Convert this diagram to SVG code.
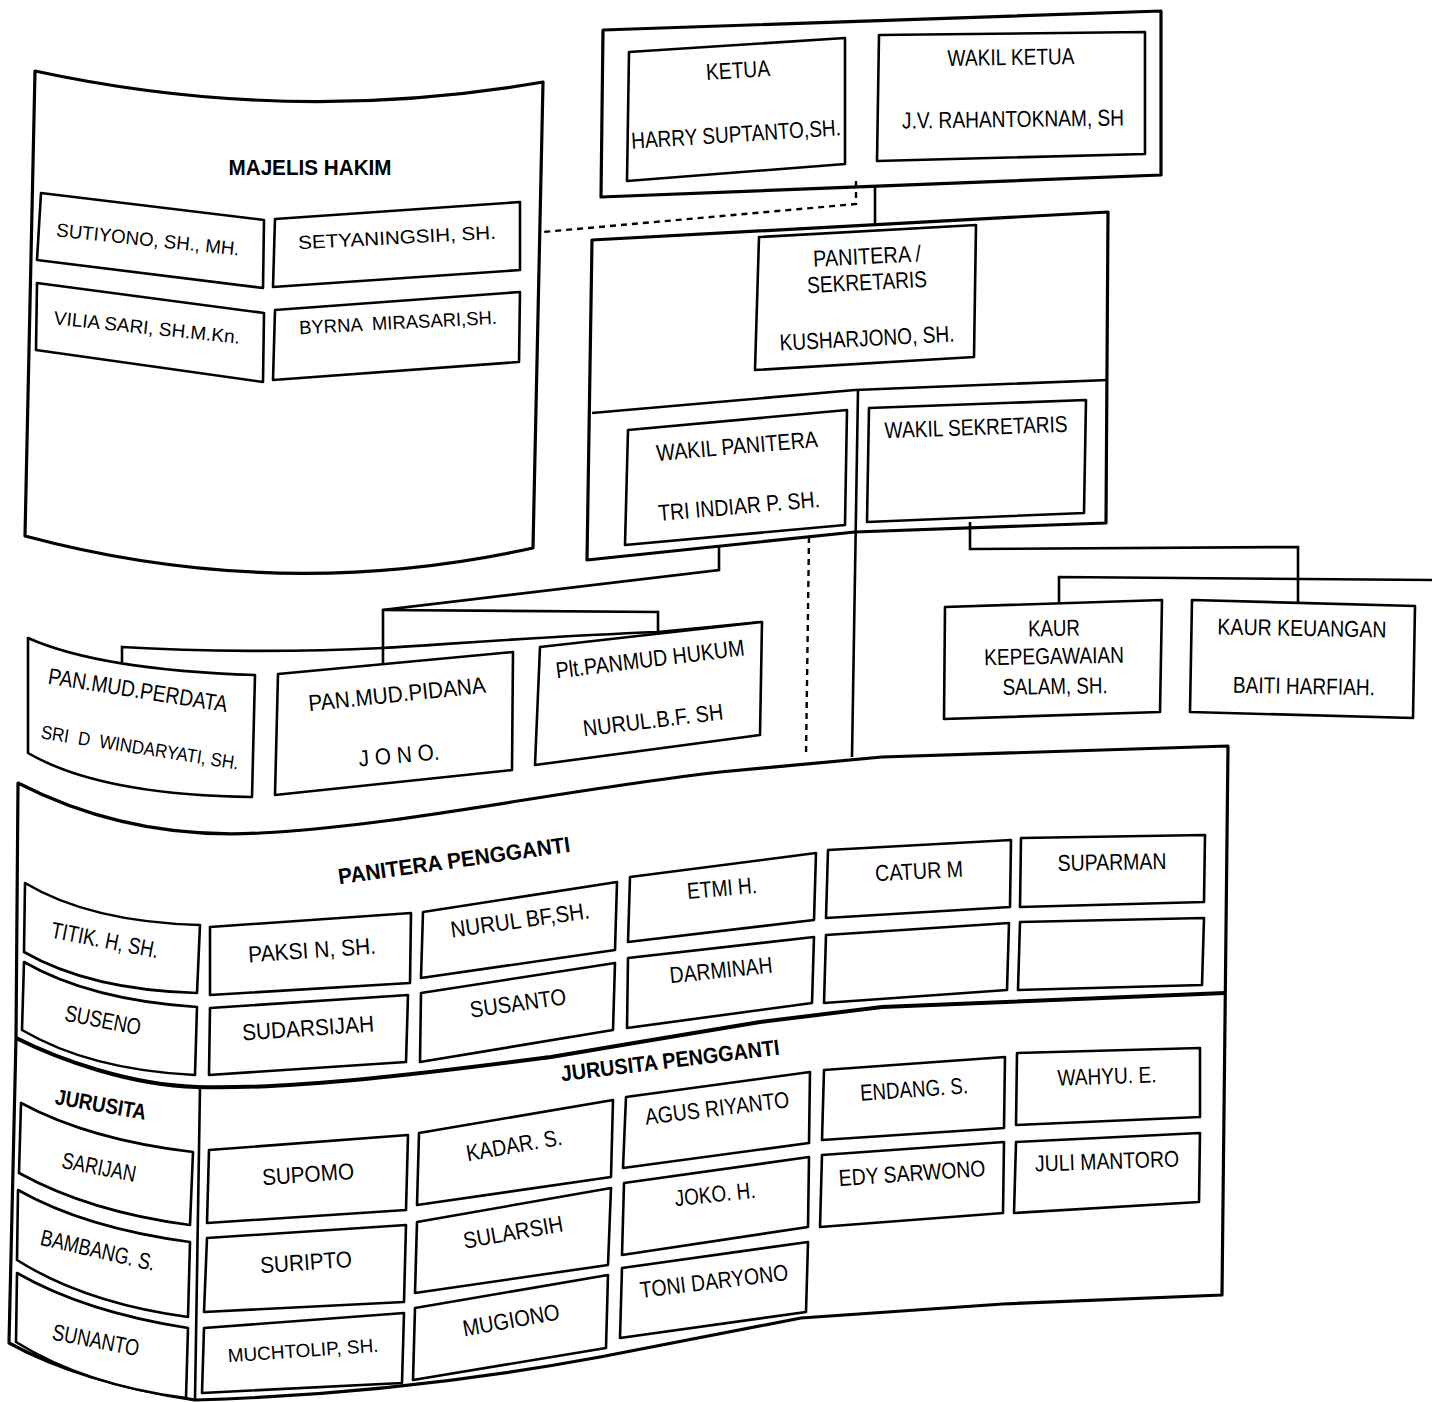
<svg xmlns="http://www.w3.org/2000/svg" width="1432" height="1402" viewBox="0 0 1432 1402">
<style>
.bg{fill:#fff}
.box{fill:#fff;stroke:#000;stroke-width:2.6;stroke-linejoin:round}
.outer{fill:#fff;stroke:#000;stroke-width:3.2;stroke-linejoin:round}
.line{fill:none;stroke:#000;stroke-width:2.6}
.thick{fill:none;stroke:#000;stroke-width:4}
.dash{fill:none;stroke:#000;stroke-width:2.4;stroke-dasharray:6 5}
text{font-family:"Liberation Sans",Arial,sans-serif;font-size:23px;text-anchor:middle;fill:#000}
.b{font-weight:bold;font-size:22px}
.s{font-size:19px}
</style>
<rect class="bg" x="0" y="0" width="1432" height="1402"/>

<!-- group outlines -->
<g id="group-pimpinan"><path class="outer" d="M603,30 L1161,11 L1161,175 L601,197 Z"/></g>
<g id="group-majelis-hakim">
<path class="outer" d="M35,71 Q289,126 543,82 L533,548 Q279,604 25,536 Z"/>
<text class="b" x="310" y="175" textLength="163" lengthAdjust="spacingAndGlyphs">MAJELIS HAKIM</text>
</g>
<g id="group-panitera">
<path class="outer" d="M592,240 L1108,212 L1106,523 L855,532 L587,560 Z"/>
<path class="line" d="M592,413 L855,390 L1108,380"/>
</g>
<g id="group-pengganti">
<path class="outer" d="M18,783 C90,820 170,838 260,833 C400,826 560,790 720,772 L882,757 L1228,746 L1222,1295 L1003,1304 L801,1318 L600,1357 Q400,1394 195,1400 Q80,1382 9,1343 L16,1038 Z"/>
<path class="thick" d="M16,1038 C60,1060 130,1085 197,1087 C300,1090 450,1070 551,1057 L640,1042 L760,1022 L882,1007 L1225,993"/>
<path class="line" d="M200,1087 L195,1400"/>
<text class="b" x="454" y="868" transform="rotate(-8 454 860)" textLength="234" lengthAdjust="spacingAndGlyphs">PANITERA PENGGANTI</text>
<text class="b" x="670" y="1068" transform="rotate(-7 670 1060)" textLength="220" lengthAdjust="spacingAndGlyphs">JURUSITA PENGGANTI</text>
<text class="b" x="101" y="1112" transform="rotate(10 101 1104)" textLength="92" lengthAdjust="spacingAndGlyphs">JURUSITA</text>
</g>

<!-- connectors -->
<g id="connectors">
<path class="dash" d="M856,181 L856,204 L543,232"/>
<path class="line" d="M875,187 L875,225"/>
<path class="line" d="M858,390 L852,757"/>
<path class="dash" d="M809,537 L806,757"/>
<path class="line" d="M719,545 L719,570 L383,610 L383,665"/>
<path class="line" d="M383,610 L658,612 L658,632"/>
<path class="line" d="M122,662 L122,647 C200,652 300,652 383,648 C450,644 550,636 658,632 L761,622"/>
<path class="line" d="M970,522 L970,549 L1298,547 L1298,602"/>
<path class="line" d="M1059,603 L1059,577 L1432,580"/>
</g>

<!-- top -->
<g id="node-ketua">
<path class="box" d="M629,52 L845,38 L845,164 L627,181 Z"/>
<text x="738" y="78" transform="rotate(-3.7 738 70)" textLength="64" lengthAdjust="spacingAndGlyphs">KETUA</text>
<text x="736" y="142" transform="rotate(-3.7 736 134)" textLength="210" lengthAdjust="spacingAndGlyphs">HARRY SUPTANTO,SH.</text>
</g>
<g id="node-wakil-ketua">
<path class="box" d="M879,35 L1145,32 L1145,154 L877,161 Z"/>
<text x="1011" y="65" transform="rotate(-0.8 1011 57)" textLength="127" lengthAdjust="spacingAndGlyphs">WAKIL KETUA</text>
<text x="1013" y="127" transform="rotate(-0.8 1013 119)" textLength="222" lengthAdjust="spacingAndGlyphs">J.V. RAHANTOKNAM, SH</text>
</g>

<!-- majelis hakim -->
<g id="node-sutiyono">
<path class="box" d="M41,193 L264,220 L263,288 L37,260 Z"/>
<text class="s" x="148" y="246" transform="rotate(6 148 239)" textLength="184" lengthAdjust="spacingAndGlyphs">SUTIYONO, SH., MH.</text>
</g>
<g id="node-setyaningsih">
<path class="box" d="M275,219 L520,202 L520,270 L273,287 Z"/>
<text class="s" x="397" y="244" transform="rotate(-3 397 237)" textLength="198" lengthAdjust="spacingAndGlyphs">SETYANINGSIH, SH.</text>
</g>
<g id="node-vilia">
<path class="box" d="M37,283 L264,313 L263,382 L36,350 Z"/>
<text class="s" x="147" y="334" transform="rotate(6 147 327)" textLength="187" lengthAdjust="spacingAndGlyphs">VILIA SARI, SH.M.Kn.</text>
</g>
<g id="node-byrna">
<path class="box" d="M275,310 L520,292 L519,362 L273,380 Z"/>
<text class="s" x="398" y="329" transform="rotate(-3 398 322)" textLength="198" lengthAdjust="spacingAndGlyphs" style="white-space:pre">BYRNA  MIRASARI,SH.</text>
</g>

<!-- panitera -->
<g id="node-panitera">
<path class="box" d="M759,237 L976,225 L974,357 L755,370 Z"/>
<text x="867" y="264" transform="rotate(-3 867 256)" textLength="108" lengthAdjust="spacingAndGlyphs">PANITERA /</text>
<text x="867" y="290" transform="rotate(-3 867 282)" textLength="120" lengthAdjust="spacingAndGlyphs">SEKRETARIS</text>
<text x="867" y="346" transform="rotate(-3 867 338)" textLength="175" lengthAdjust="spacingAndGlyphs">KUSHARJONO, SH.</text>
</g>
<g id="node-wakil-panitera">
<path class="box" d="M628,430 L847,410 L845,525 L625,545 Z"/>
<text x="737" y="454" transform="rotate(-5 737 446)" textLength="162" lengthAdjust="spacingAndGlyphs">WAKIL PANITERA</text>
<text x="739" y="514" transform="rotate(-5 739 506)" textLength="162" lengthAdjust="spacingAndGlyphs">TRI INDIAR P. SH.</text>
</g>
<g id="node-wakil-sekretaris">
<path class="box" d="M869,408 L1086,400 L1084,513 L867,522 Z"/>
<text x="976" y="435" transform="rotate(-2 976 427)" textLength="183" lengthAdjust="spacingAndGlyphs">WAKIL SEKRETARIS</text>
</g>

<!-- kaur -->
<g id="node-kaur-kepegawaian">
<path class="box" d="M945,607 L1162,600 L1160,712 L944,719 Z"/>
<text x="1054" y="636" transform="rotate(-1 1054 628)" textLength="52" lengthAdjust="spacingAndGlyphs">KAUR</text>
<text x="1054" y="664" transform="rotate(-1 1054 656)" textLength="140" lengthAdjust="spacingAndGlyphs">KEPEGAWAIAN</text>
<text x="1055" y="694" transform="rotate(-1 1055 686)" textLength="105" lengthAdjust="spacingAndGlyphs">SALAM, SH.</text>
</g>
<g id="node-kaur-keuangan">
<path class="box" d="M1192,600 L1415,606 L1413,718 L1190,712 Z"/>
<text x="1302" y="636" transform="rotate(1 1302 628)" textLength="169" lengthAdjust="spacingAndGlyphs">KAUR KEUANGAN</text>
<text x="1304" y="694" transform="rotate(1 1304 686)" textLength="142" lengthAdjust="spacingAndGlyphs">BAITI HARFIAH.</text>
</g>

<!-- panmud -->
<g id="node-perdata">
<path class="box" d="M28,638 Q100,670 255,675 L252,797 Q100,795 28,753 Z"/>
<text x="138" y="698" transform="rotate(9 138 690)" textLength="181" lengthAdjust="spacingAndGlyphs">PAN.MUD.PERDATA</text>
<text class="s" x="140" y="754" transform="rotate(9 140 747)" textLength="200" lengthAdjust="spacingAndGlyphs" style="white-space:pre">SRI  D  WINDARYATI, SH.</text>
</g>
<g id="node-pidana">
<path class="box" d="M278,674 L513,652 L512,770 L275,795 Z"/>
<text x="397" y="702" transform="rotate(-6 397 694)" textLength="178" lengthAdjust="spacingAndGlyphs">PAN.MUD.PIDANA</text>
<text x="399" y="763" transform="rotate(-5 399 755)" textLength="81" lengthAdjust="spacingAndGlyphs">J O N O.</text>
</g>
<g id="node-hukum">
<path class="box" d="M540,647 L762,622 L760,735 L535,765 Z"/>
<text x="650" y="667" transform="rotate(-7 650 659)" textLength="190" lengthAdjust="spacingAndGlyphs">Plt.PANMUD HUKUM</text>
<text x="653" y="728" transform="rotate(-7 653 720)" textLength="141" lengthAdjust="spacingAndGlyphs">NURUL.B.F. SH</text>
</g>

<!-- panitera pengganti -->
<g id="node-titik">
<path class="box" d="M25,883 Q90,922 200,925 L197,993 Q90,990 24,952 Z"/>
<text x="105" y="948" transform="rotate(11 105 940)" textLength="109" lengthAdjust="spacingAndGlyphs">TITIK. H, SH.</text>
</g>
<g id="node-paksi">
<path class="box" d="M210,927 L411,913 L410,983 L210,995 Z"/>
<text x="312" y="958" transform="rotate(-4 312 950)" textLength="128" lengthAdjust="spacingAndGlyphs">PAKSI N, SH.</text>
</g>
<g id="node-nurul-bf">
<path class="box" d="M423,912 L617,882 L615,950 L421,978 Z"/>
<text x="520" y="928" transform="rotate(-8 520 920)" textLength="140" lengthAdjust="spacingAndGlyphs">NURUL BF,SH.</text>
</g>
<g id="node-etmi">
<path class="box" d="M630,877 L816,853 L814,920 L628,942 Z"/>
<text x="722" y="896" transform="rotate(-5 722 888)" textLength="70" lengthAdjust="spacingAndGlyphs">ETMI H.</text>
</g>
<g id="node-catur">
<path class="box" d="M828,850 L1011,840 L1010,907 L826,918 Z"/>
<text x="919" y="879" transform="rotate(-3 919 871)" textLength="88" lengthAdjust="spacingAndGlyphs">CATUR M</text>
</g>
<g id="node-suparman">
<path class="box" d="M1021,838 L1205,835 L1204,902 L1020,907 Z"/>
<text x="1112" y="870" transform="rotate(-1 1112 862)" textLength="109" lengthAdjust="spacingAndGlyphs">SUPARMAN</text>
</g>
<g id="node-suseno">
<path class="box" d="M24,962 Q90,1000 197,1007 L195,1075 Q90,1070 22,1030 Z"/>
<text x="103" y="1028" transform="rotate(11 103 1020)" textLength="77" lengthAdjust="spacingAndGlyphs">SUSENO</text>
</g>
<g id="node-sudarsijah">
<path class="box" d="M210,1008 L408,995 L406,1062 L209,1075 Z"/>
<text x="308" y="1036" transform="rotate(-4 308 1028)" textLength="132" lengthAdjust="spacingAndGlyphs">SUDARSIJAH</text>
</g>
<g id="node-susanto">
<path class="box" d="M421,993 L615,963 L613,1030 L420,1062 Z"/>
<text x="518" y="1011" transform="rotate(-8 518 1003)" textLength="97" lengthAdjust="spacingAndGlyphs">SUSANTO</text>
</g>
<g id="node-darminah">
<path class="box" d="M628,958 L814,937 L812,1003 L627,1028 Z"/>
<text x="721" y="978" transform="rotate(-6 721 970)" textLength="103" lengthAdjust="spacingAndGlyphs">DARMINAH</text>
</g>
<g id="node-empty-1"><path class="box" d="M826,935 L1009,923 L1007,990 L824,1003 Z"/></g>
<g id="node-empty-2"><path class="box" d="M1020,922 L1204,918 L1202,985 L1018,990 Z"/></g>

<!-- jurusita -->
<g id="node-sarijan">
<path class="box" d="M21,1103 Q90,1140 193,1152 L190,1225 Q90,1212 19,1173 Z"/>
<text x="99" y="1175" transform="rotate(11 99 1167)" textLength="75" lengthAdjust="spacingAndGlyphs">SARIJAN</text>
</g>
<g id="node-bambang">
<path class="box" d="M18,1190 Q85,1228 190,1242 L188,1317 Q85,1303 17,1260 Z"/>
<text x="98" y="1258" transform="rotate(13 98 1250)" textLength="117" lengthAdjust="spacingAndGlyphs">BAMBANG. S.</text>
</g>
<g id="node-sunanto">
<path class="box" d="M17,1273 Q85,1312 188,1328 L186,1398 Q85,1385 16,1342 Z"/>
<text x="96" y="1348" transform="rotate(11 96 1340)" textLength="88" lengthAdjust="spacingAndGlyphs">SUNANTO</text>
</g>

<!-- jurusita pengganti -->
<g id="node-supomo">
<path class="box" d="M209,1150 L408,1135 L406,1210 L207,1223 Z"/>
<text x="308" y="1182" transform="rotate(-4 308 1174)" textLength="92" lengthAdjust="spacingAndGlyphs">SUPOMO</text>
</g>
<g id="node-suripto">
<path class="box" d="M207,1238 L406,1225 L404,1302 L204,1312 Z"/>
<text x="306" y="1270" transform="rotate(-4 306 1262)" textLength="92" lengthAdjust="spacingAndGlyphs">SURIPTO</text>
</g>
<g id="node-muchtolip">
<path class="box" d="M204,1328 L404,1313 L402,1383 L202,1393 Z"/>
<text class="s" x="303" y="1357" transform="rotate(-4 303 1350)" textLength="151" lengthAdjust="spacingAndGlyphs">MUCHTOLIP, SH.</text>
</g>
<g id="node-kadar">
<path class="box" d="M419,1133 L613,1100 L611,1177 L417,1205 Z"/>
<text x="514" y="1153" transform="rotate(-10 514 1145)" textLength="97" lengthAdjust="spacingAndGlyphs">KADAR. S.</text>
</g>
<g id="node-sularsih">
<path class="box" d="M417,1222 L611,1188 L608,1265 L415,1293 Z"/>
<text x="513" y="1240" transform="rotate(-10 513 1232)" textLength="101" lengthAdjust="spacingAndGlyphs">SULARSIH</text>
</g>
<g id="node-mugiono">
<path class="box" d="M415,1308 L608,1275 L606,1348 L413,1380 Z"/>
<text x="511" y="1328" transform="rotate(-10 511 1320)" textLength="98" lengthAdjust="spacingAndGlyphs">MUGIONO</text>
</g>
<g id="node-agus">
<path class="box" d="M626,1097 L810,1072 L809,1143 L623,1168 Z"/>
<text x="717" y="1116" transform="rotate(-7 717 1108)" textLength="145" lengthAdjust="spacingAndGlyphs">AGUS RIYANTO</text>
</g>
<g id="node-joko">
<path class="box" d="M624,1183 L809,1157 L808,1227 L622,1255 Z"/>
<text x="715" y="1202" transform="rotate(-6 715 1194)" textLength="81" lengthAdjust="spacingAndGlyphs">JOKO. H.</text>
</g>
<g id="node-toni">
<path class="box" d="M622,1268 L808,1242 L806,1312 L620,1338 Z"/>
<text x="714" y="1289" transform="rotate(-7 714 1281)" textLength="149" lengthAdjust="spacingAndGlyphs">TONI DARYONO</text>
</g>
<g id="node-endang">
<path class="box" d="M824,1070 L1005,1057 L1004,1128 L822,1140 Z"/>
<text x="914" y="1097" transform="rotate(-4 914 1089)" textLength="108" lengthAdjust="spacingAndGlyphs">ENDANG. S.</text>
</g>
<g id="node-edy">
<path class="box" d="M822,1155 L1004,1142 L1003,1213 L820,1227 Z"/>
<text x="912" y="1181" transform="rotate(-4 912 1173)" textLength="147" lengthAdjust="spacingAndGlyphs">EDY SARWONO</text>
</g>
<g id="node-wahyu">
<path class="box" d="M1017,1053 L1200,1048 L1200,1117 L1016,1125 Z"/>
<text x="1107" y="1084" transform="rotate(-2 1107 1076)" textLength="99" lengthAdjust="spacingAndGlyphs">WAHYU. E.</text>
</g>
<g id="node-juli">
<path class="box" d="M1016,1142 L1200,1133 L1199,1202 L1014,1213 Z"/>
<text x="1107" y="1169" transform="rotate(-2 1107 1161)" textLength="144" lengthAdjust="spacingAndGlyphs">JULI MANTORO</text>
</g>
</svg>
